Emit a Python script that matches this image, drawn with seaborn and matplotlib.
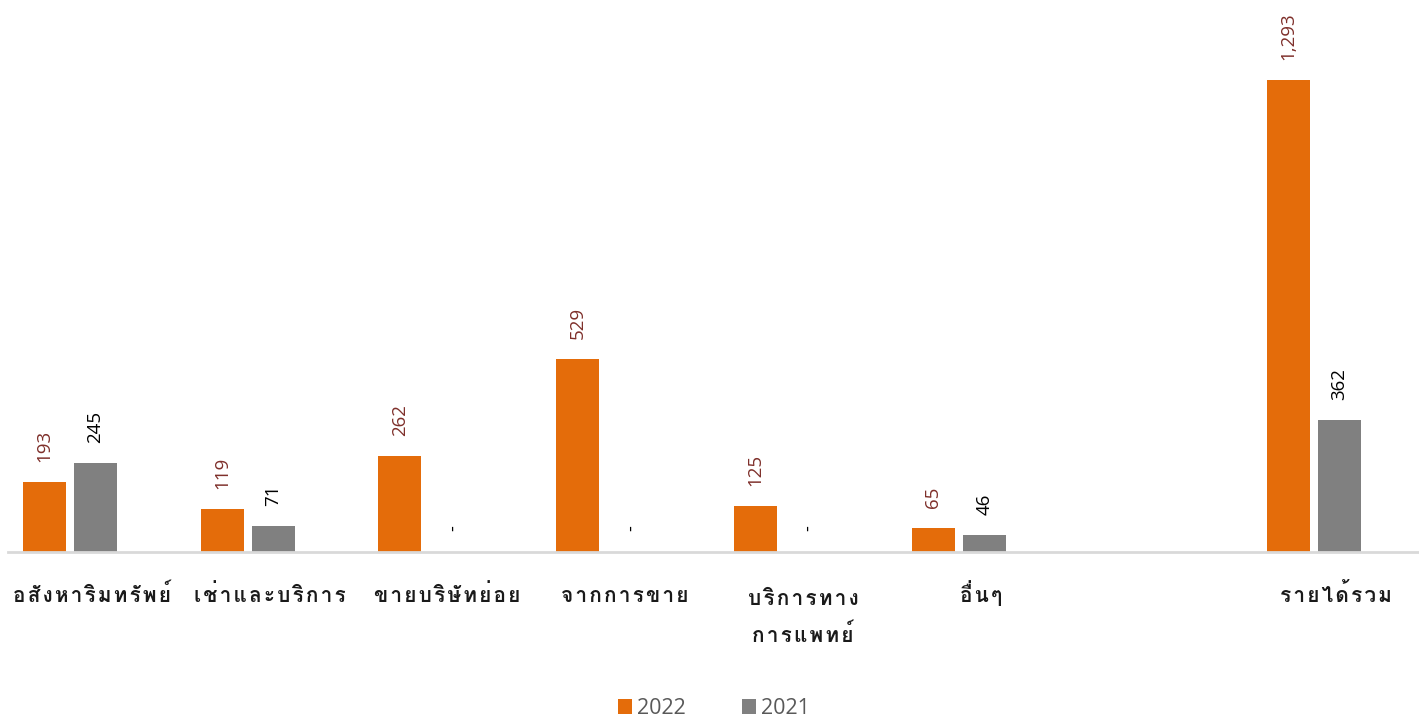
import matplotlib
matplotlib.use("Agg")
import matplotlib.pyplot as plt
import matplotlib.font_manager as fm
from matplotlib.ft2font import FT2Font
from matplotlib.patches import Patch
import matplotlib.transforms as mtransforms
import numpy as np
import pandas as pd
import seaborn as sns

# ---- data ----
categories = ["อสังหาริมทรัพย์", "เช่าและบริการ", "ขายบริษัทย่อย", "จากการขาย",
              "บริการทาง\nการแพทย์", "อื่นๆ", " ", "รายได้รวม"]
series_names = ["2022", "2021"]
values_2022 = [193, 119, 262, 529, 125, 65, np.nan, 1293]
values_2021 = [245, 71, 0, 0, 0, 46, np.nan, 362]

colors = {"2022": "#E46C0A", "2021": "#808080"}
label_colors = {"2022": "#7E2F2A", "2021": "#000000"}

# ---- find a font with Thai glyphs ----
thai_fonts = []
seen = set()
for f in fm.fontManager.ttflist:
    if f.name in seen:
        continue
    try:
        cm = FT2Font(f.fname).get_charmap()
        if 0x0E01 in cm and 0x0E2D in cm:
            thai_fonts.append(f.name)
            seen.add(f.name)
    except Exception:
        pass
thai_family = thai_fonts[:1] + ["DejaVu Sans"]

THAI_MARKS = set(chr(c) for c in [0x0E31] + list(range(0x0E34, 0x0E3B)) + list(range(0x0E47, 0x0E4F)))


def spaced(text, sep="\u200a"):
    out = []
    for line in text.split("\n"):
        clusters = []
        for ch in line:
            if clusters and ch in THAI_MARKS:
                clusters[-1] += ch
            else:
                clusters.append(ch)
        out.append(sep.join(clusters))
    return "\n".join(out)


sns.set_theme(style="white")
plt.rcParams["font.family"] = ["Open Sans", "DejaVu Sans"]

df = pd.DataFrame({
    "category": categories * 2,
    "year": [series_names[0]] * len(categories) + [series_names[1]] * len(categories),
    "value": values_2022 + values_2021,
})

fig = plt.figure(figsize=(14.19, 7.22), dpi=100)
W, H = 1419, 722
ax = fig.add_axes([8 / W, 170 / H, 1 - 8 / W, 552 / H])

sns.barplot(data=df, x="category", y="value", hue="year", order=categories,
            hue_order=series_names, palette=colors, saturation=1, width=0.574, gap=0.157,
            linewidth=0, ax=ax, legend=False, errorbar=None)

ax.set_xlim(-0.349, 7.59)
ax.set_ylim(0, 1512)
ax.set_xlabel("")
ax.set_ylabel("")
ax.set_yticks([])
for s in ["left", "right", "top"]:
    ax.spines[s].set_visible(False)
ax.spines["bottom"].set_color("#D9D9D9")
ax.spines["bottom"].set_linewidth(2)
ax.tick_params(axis="x", length=0, pad=36)

LINE_PX = 40
ax.set_xticks(range(len(categories)))
ax.set_xticklabels([spaced(c) for c in categories], family=thai_family, fontsize=15,
                   fontweight="bold", color="#1A1A1A", linespacing=1.8, va="baseline")
for lbl, cat in zip(ax.get_xticklabels(), categories):
    n_extra = cat.count("\n")
    offset = mtransforms.ScaledTranslation(22 / 100, -n_extra * LINE_PX / 100, fig.dpi_scale_trans)
    lbl.set_transform(lbl.get_transform() + offset)

# data labels
for cont, name in zip(ax.containers, series_names):
    for bar in cont:
        h = bar.get_height()
        if h is None or np.isnan(h):
            continue
        xc = bar.get_x() + bar.get_width() / 2
        if h == 0:
            ax.annotate("-", (xc, 0), xytext=(2, 24), textcoords="offset pixels",
                        rotation=90, ha="center", va="center", fontsize=13,
                        color=label_colors[name], annotation_clip=False)
        else:
            ax.annotate(f"{h:,.0f}", (xc, h), xytext=(0, 20), textcoords="offset pixels",
                        rotation=90, ha="center", va="bottom", fontsize=13.5,
                        color=label_colors[name], annotation_clip=False)

handles = [Patch(facecolor=colors[n], edgecolor="none") for n in series_names]
fig.legend(handles, series_names, loc="lower center", bbox_to_anchor=(0.503, -0.023),
           ncol=2, frameon=False, fontsize=15.5, labelcolor="#595959",
           handlelength=0.65, handleheight=0.65, handletextpad=0.25, columnspacing=2.6)

fig.savefig("out.png", dpi=100)
